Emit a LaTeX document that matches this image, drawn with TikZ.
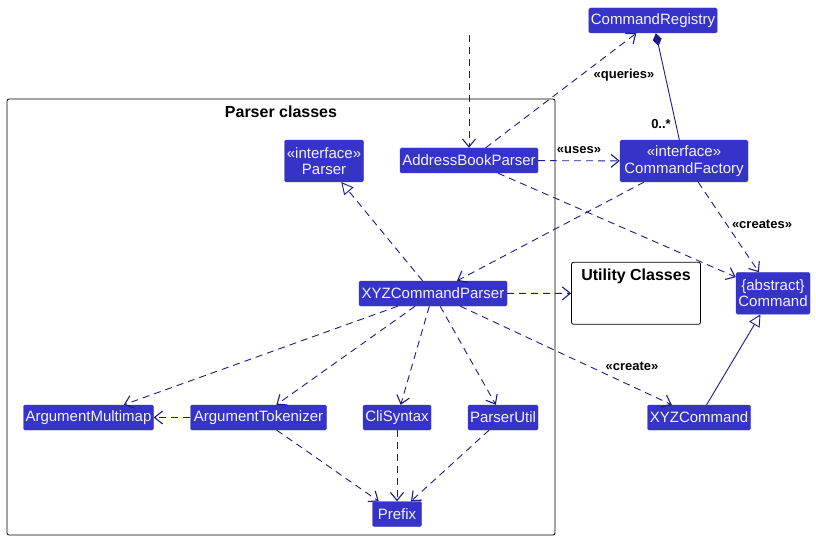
\documentclass[tikz,border=0pt]{standalone}
\usepackage{fontspec}
\setmainfont{Liberation Sans}
\usetikzlibrary{arrows.meta}
\definecolor{nodefill}{RGB}{54,51,200}
\definecolor{edgecol}{RGB}{28,26,140}
\tikzset{
  x=1pt, y=-1pt,
  cls/.style={fill=nodefill, draw=nodefill, rounded corners=1.5pt, text=white!94!nodefill,
    font=\fontsize{15}{16.5}\selectfont, inner xsep=2pt, inner ysep=0pt, minimum height=25pt, align=center},
  cls2/.style={cls, minimum height=41.7pt},
  dep/.style={draw=edgecol, line width=0.9pt, dash pattern=on 7pt off 5pt,
    -{Straight Barb[length=8pt,width=13pt,line width=1.1pt]}},
  real/.style={draw=edgecol, line width=0.9pt, dash pattern=on 7pt off 5pt,
    -{Triangle[open,length=12pt,width=12pt,fill=white,line width=0.9pt]}},
  gen/.style={draw=edgecol, line width=0.9pt,
    -{Triangle[open,length=12pt,width=12pt,fill=white,line width=0.9pt]}},
  comp/.style={draw=edgecol, line width=0.9pt, {Diamond[length=13pt,width=9pt,fill=edgecol]}-},
  lbl/.style={font=\fontsize{13}{14}\selectfont\bfseries, text=black, inner sep=0pt},
  pkgtitle/.style={font=\fontsize{16}{17}\selectfont\bfseries, text=black, inner sep=0pt},
  pkg/.style={draw=black, line width=0.8pt, rounded corners=2pt}
}
\begin{document}
\begin{tikzpicture}
\useasboundingbox (0,0) rectangle (816,540);
% packages
\draw[pkg] (7,99) rectangle (555,535);
\node[pkgtitle] (ptitle) at (281,112) {Parser classes};
\node[pkg, minimum width=129pt, minimum height=62pt] (util) at (636,293.3) {};
\node[pkgtitle] (utitle) at (636,276) {Utility Classes};

% nodes
\node[cls, minimum width=128pt] (reg) at (653,20.5) {CommandRegistry};
\node[cls, minimum width=138pt] (abp) at (469,160.5) {AddressBookParser};
\node[cls2, minimum width=128pt] (cf) at (684,161) {«interface»\\CommandFactory};
\node[cls2, minimum width=79pt] (parser) at (324,161) {«interface»\\Parser};
\node[cls, minimum width=148pt] (xyzp) at (433,293.5) {XYZCommandParser};
\node[cls2, minimum width=74pt] (cmd) at (773,293.3) {\{abstract\}\\Command};
\node[cls, minimum width=103pt] (xyzc) at (699,417.5) {XYZCommand};
\node[cls, minimum width=130pt] (am) at (88.5,417.5) {ArgumentMultimap};
\node[cls, minimum width=136pt] (at) at (258.5,417.5) {ArgumentTokenizer};
\node[cls, minimum width=68pt] (cli) at (397,417.5) {CliSyntax};
\node[cls, minimum width=70pt] (pu) at (503,417.5) {ParserUtil};
\node[cls, minimum width=49pt] (prefix) at (397,514) {Prefix};

\coordinate (top) at (469,35);

% edges
\draw[dep] (top) -- (abp);
\draw[dep] (abp) -- (reg);
\draw[comp] (reg) -- (cf);
\draw[dep] (abp) -- (cf);
\draw[dep] (abp) -- (cmd);
\draw[dep] (cf) -- (xyzp);
\draw[dep] (cf) -- (cmd);
\draw[real] (xyzp) -- (parser);
\draw[dep] (xyzp) -- (util);
\draw[dep] (xyzp) -- (am);
\draw[dep] (xyzp) -- (at);
\draw[dep] (xyzp) -- (cli);
\draw[dep] (xyzp) -- (pu);
\draw[dep] (xyzp) -- (xyzc);
\draw[gen] (xyzc) -- (cmd);
\draw[dep] (at) -- (am);
\draw[dep] (at) -- (prefix);
\draw[dep] (cli) -- (prefix);
\draw[dep] (pu) -- (prefix);

% labels
\node[lbl] (lq) at (624,75) {«queries»};
\node[lbl] (lu) at (579,150) {«uses»};
\node[lbl] (lm) at (661,124) {0..*};
\node[lbl] (lcs) at (762,224) {«creates»};
\node[lbl] (lc) at (632,366) {«create»};
\end{tikzpicture}
\end{document}
